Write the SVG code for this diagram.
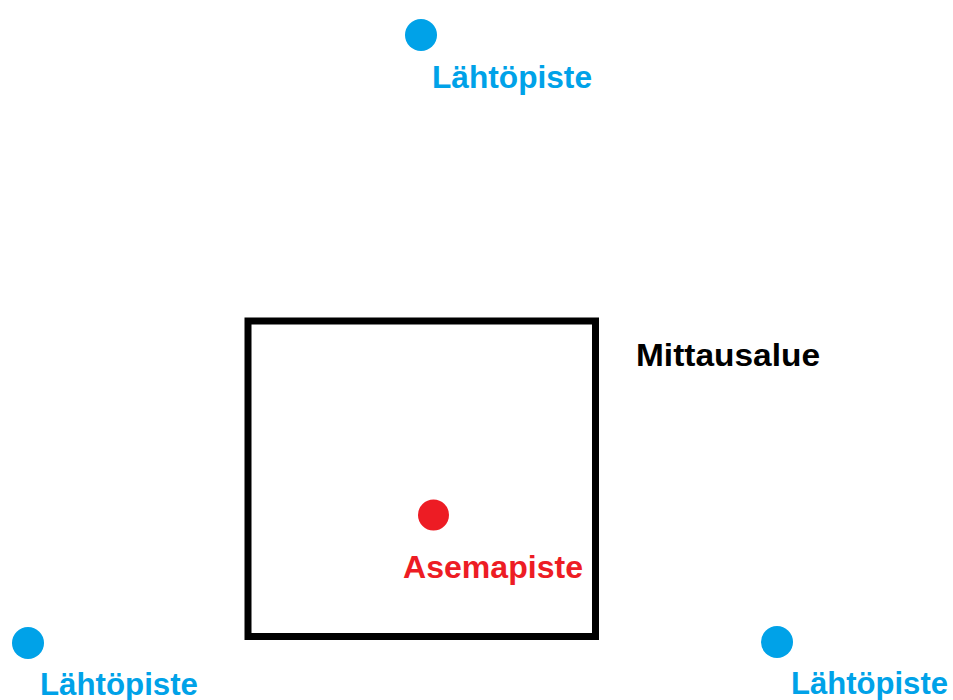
<svg xmlns="http://www.w3.org/2000/svg" width="953" height="700" viewBox="0 0 953 700">
<style>
text{font-family:"Liberation Sans",Arial,sans-serif;font-weight:bold;font-size:32px}
.blue{fill:#00A2E8}
.red{fill:#ED1C24}
.blk{fill:#000}
</style>
<rect width="953" height="700" fill="#fff"/>
<g id="area">
<rect x="248" y="321" width="347.5" height="315.5" fill="none" stroke="#000" stroke-width="7"/>
<text class="blk" x="636" y="366" textLength="184" lengthAdjust="spacingAndGlyphs">Mittausalue</text>
</g>
<g id="start-top">
<circle class="blue" cx="421" cy="35" r="16"/>
<text class="blue" x="432" y="88" textLength="160" lengthAdjust="spacingAndGlyphs">Lähtöpiste</text>
</g>
<g id="station">
<circle class="red" cx="433.5" cy="515" r="15.5"/>
<text class="red" x="403" y="578" textLength="180" lengthAdjust="spacingAndGlyphs">Asemapiste</text>
</g>
<g id="start-left">
<circle class="blue" cx="28" cy="643" r="16"/>
<text class="blue" x="40" y="695" textLength="158" lengthAdjust="spacingAndGlyphs">Lähtöpiste</text>
</g>
<g id="start-right">
<circle class="blue" cx="777" cy="642" r="16"/>
<text class="blue" x="791" y="694" textLength="157" lengthAdjust="spacingAndGlyphs">Lähtöpiste</text>
</g>
<g id="connectors"></g>
</svg>
